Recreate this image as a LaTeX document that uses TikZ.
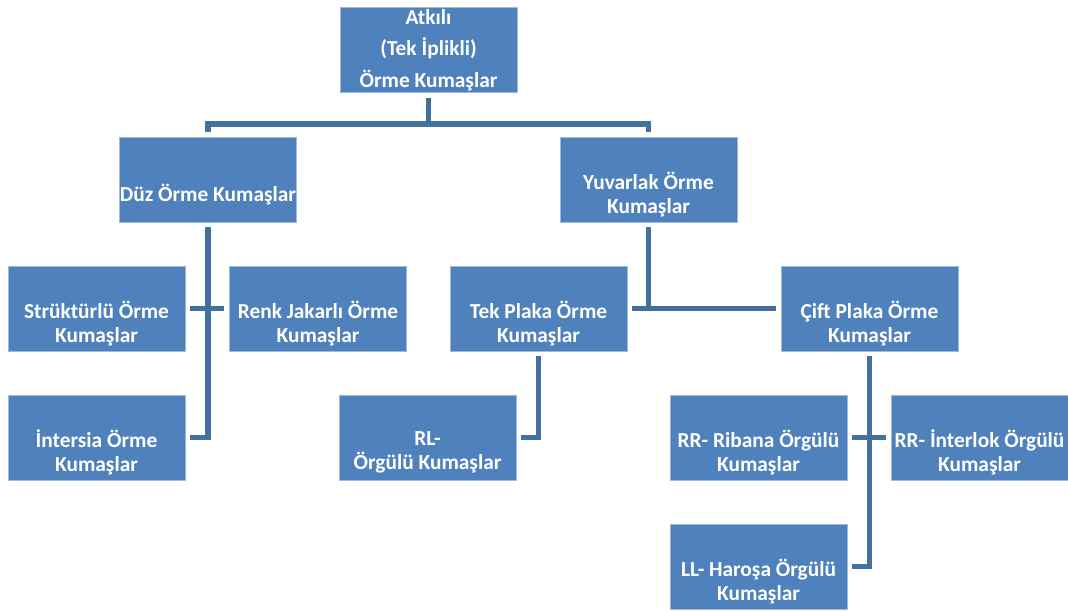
\documentclass[tikz,border=0pt]{standalone}
\usepackage{fontspec}
\setmainfont{Carlito}
\definecolor{boxblue}{HTML}{4F81BD}
\definecolor{lineblue}{HTML}{41719C}
\tikzset{
  kutu/.style={draw=boxblue!55!white, line width=0.6pt, fill=boxblue,
    minimum width=4.425cm, minimum height=2.125cm, inner sep=0pt, outer sep=0.125cm},
  yazi/.style={text=white, font=\bfseries\fontsize{15.2}{17.2}\selectfont, align=center, yshift=-0.375cm},
  bag/.style={draw=lineblue, line width=0.1375cm},
}
\begin{document}
\begin{tikzpicture}[x=0.025cm,y=-0.025cm]
\useasboundingbox (0,0) rectangle (1068,612);
%\draw[step=50,gray,very thin] (0,0) grid (1068,612);

% boxes
\node[kutu, text=white, font=\bfseries\fontsize{15.2}{22.3}\selectfont, align=center] (atkili) at (428.5,50) {Atkılı\\(Tek İplikli)\\Örme Kumaşlar};
\node[kutu, label={[yazi]center:{Düz Örme Kumaşlar}}]      (duz)  at (208,179.5) {};
\node[kutu, label={[yazi]center:{Yuvarlak Örme\\Kumaşlar}}] (yuv)  at (648.5,179.5) {};

\node[kutu, label={[yazi]center:{Strüktürlü Örme\\Kumaşlar}}]   (struk) at (96.5,308.5) {};
\node[kutu, label={[yazi]center:{Renk Jakarlı Örme\\Kumaşlar}}] (renk)  at (318,308.5) {};
\node[kutu, label={[yazi]center:{Tek Plaka Örme\\Kumaşlar}}]    (tek)   at (538.5,308.5) {};
\node[kutu, label={[yazi]center:{Çift Plaka Örme\\Kumaşlar}}]   (cift)  at (869.5,308.5) {};

\node[kutu, label={[yazi]center:{İntersia Örme\\Kumaşlar}}]        (inter)  at (96.5,437.5) {};
\node[kutu, label={[yazi]center:{RL-\\Örgülü Kumaşlar}}]           (rl)     at (427.5,437.5) {};
\node[kutu, label={[yazi]center:{RR- Ribana Örgülü\\Kumaşlar}}]    (ribana) at (758.5,437.5) {};
\node[kutu, label={[yazi]center:{RR- İnterlok Örgülü\\Kumaşlar}}]  (interlok) at (979.5,437.5) {};
\node[kutu, label={[yazi]center:{LL- Haroşa Örgülü\\Kumaşlar}}]    (harosa) at (758.5,566.5) {};

% connectors
\coordinate (ustbag) at (428.5,124);
\draw[bag] (atkili.south) -- (ustbag);
\draw[bag] (duz.north) |- (ustbag) -| (yuv.north);

\draw[bag] (duz.south) |- (inter.east);
\draw[bag] (struk.east) -- (renk.west);

\draw[bag] (yuv.south) -- (yuv.south |- tek.east);
\draw[bag] (tek.east) -- (cift.west);

\draw[bag] (tek.south) |- (rl.east);

\draw[bag] (cift.south) |- (harosa.east);
\draw[bag] (ribana.east) -- (interlok.west);
\end{tikzpicture}
\end{document}
